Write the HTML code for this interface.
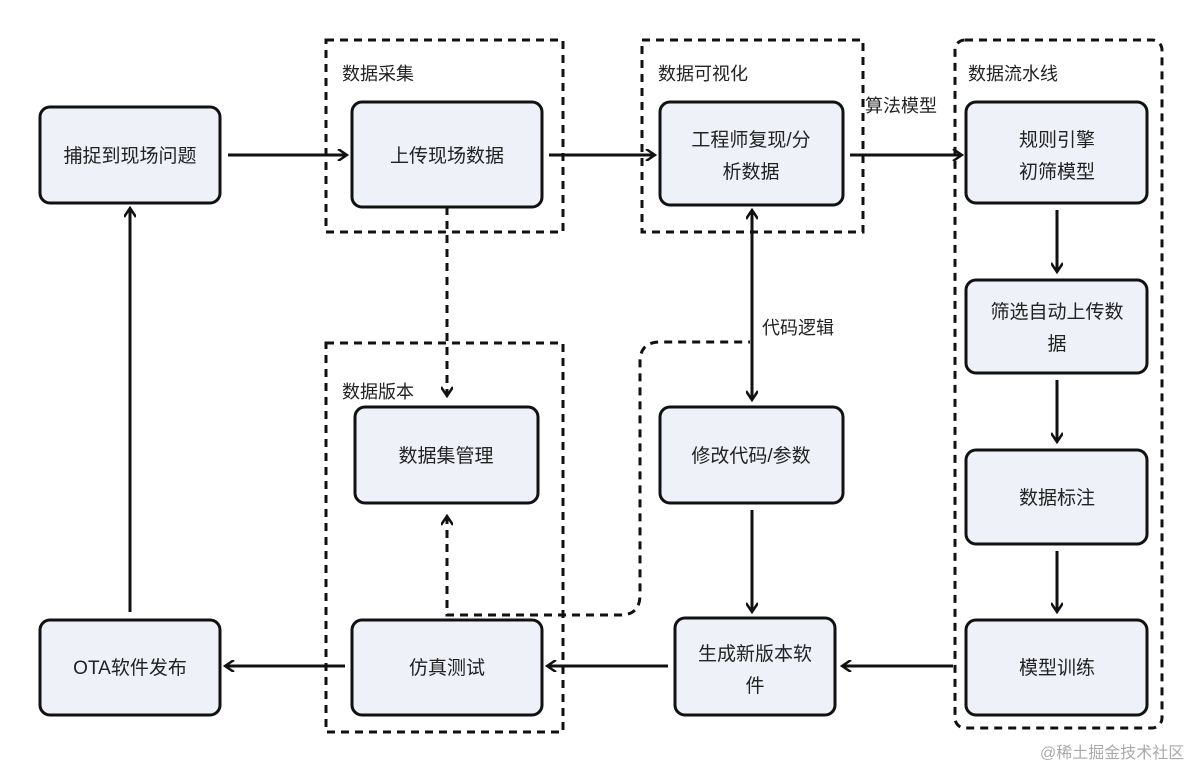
<!DOCTYPE html>
<html><head><meta charset="utf-8"><style>
body{margin:0;width:1200px;height:770px;background:#fff;overflow:hidden}
svg text{font-family:"Liberation Sans","Noto Sans CJK SC",sans-serif;fill:#222}
</style></head><body>
<svg width="1200" height="770" viewBox="0 0 1200 770" xmlns="http://www.w3.org/2000/svg">
<defs>
<marker id="a" viewBox="0 0 12 12" refX="10" refY="6" markerWidth="12" markerHeight="12" markerUnits="userSpaceOnUse" orient="auto-start-reverse">
<path d="M1 0 L10 6 L1 12" fill="none" stroke="#111" stroke-width="2.5"/></marker>
</defs>
<g fill="none" stroke="#111" stroke-width="3" stroke-dasharray="8 6">
<rect x="326" y="40" width="237" height="192"/>
<rect x="642" y="40" width="221" height="192"/>
<rect x="955" y="40" width="207" height="688" rx="10"/>
<rect x="326" y="343" width="237" height="389"/>
<path d="M447 207 V396" marker-end="url(#a)"/>
<path d="M447 516 V615 H620 Q640 615 640 595 V362 Q640 342 660 342 H750" marker-start="url(#a)"/>
</g>
<g fill="#eef1f8" stroke="#111" stroke-width="3">
<rect x="40" y="107" width="180" height="96" rx="10"/>
<rect x="352" y="102" width="190" height="105" rx="10"/>
<rect x="660" y="102" width="183" height="103" rx="10"/>
<rect x="966" y="102" width="181" height="101" rx="10"/>
<rect x="966" y="280" width="181" height="93" rx="10"/>
<rect x="966" y="450" width="181" height="94" rx="10"/>
<rect x="966" y="620" width="181" height="95" rx="10"/>
<rect x="675" y="618" width="160" height="97" rx="10"/>
<rect x="660" y="407" width="183" height="96" rx="10"/>
<rect x="355" y="407" width="183" height="96" rx="10"/>
<rect x="352" y="620" width="190" height="95" rx="10"/>
<rect x="40" y="620" width="180" height="95" rx="10"/>
</g>
<g fill="none" stroke="#111" stroke-width="3">
<path d="M228 155 H347" marker-end="url(#a)"/>
<path d="M549 155 H655" marker-end="url(#a)"/>
<path d="M850 155 H962" marker-end="url(#a)"/>
<path d="M1057 210 V272" marker-end="url(#a)"/>
<path d="M1057 380 V442" marker-end="url(#a)"/>
<path d="M1057 551 V612" marker-end="url(#a)"/>
<path d="M953 666 H842" marker-end="url(#a)"/>
<path d="M668 666 H547" marker-end="url(#a)"/>
<path d="M345 666 H225" marker-end="url(#a)"/>
<path d="M130 612 V208" marker-end="url(#a)"/>
<path d="M752 510 V612" marker-end="url(#a)"/>
<path d="M752 210 V400" marker-start="url(#a)" marker-end="url(#a)"/>
</g>
<g font-size="19" text-anchor="middle">
<text x="130" y="162">捕捉到现场问题</text>
<text x="447" y="162">上传现场数据</text>
<text x="751" y="146">工程师复现/分</text>
<text x="751" y="178">析数据</text>
<text x="1057" y="146">规则引擎</text>
<text x="1057" y="178">初筛模型</text>
<text x="1057" y="318">筛选自动上传数</text>
<text x="1057" y="350">据</text>
<text x="1057" y="504">数据标注</text>
<text x="1057" y="674">模型训练</text>
<text x="755" y="660">生成新版本软</text>
<text x="755" y="692">件</text>
<text x="751" y="462">修改代码/参数</text>
<text x="446" y="462">数据集管理</text>
<text x="447" y="674">仿真测试</text>
<text x="130" y="674">OTA软件发布</text>
</g>
<g font-size="18">
<text x="342" y="80">数据采集</text>
<text x="658" y="80">数据可视化</text>
<text x="968" y="80">数据流水线</text>
<text x="342" y="398">数据版本</text>
<text x="865" y="112">算法模型</text>
<text x="762" y="334">代码逻辑</text>
</g>
<text x="1040" y="758" font-size="16" style="fill:#aaa">@稀土掘金技术社区</text>
</svg>
</body></html>
